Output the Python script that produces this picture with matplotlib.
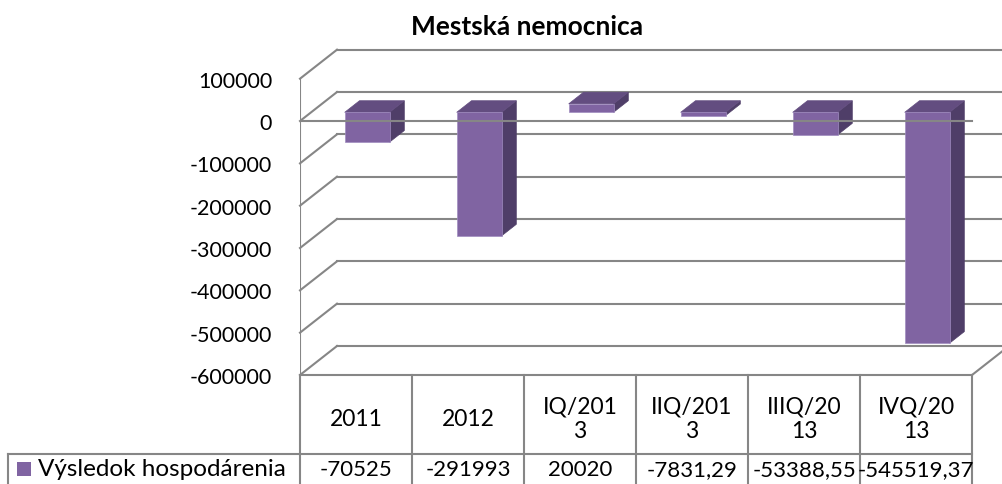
import matplotlib
matplotlib.use("Agg")
import matplotlib.pyplot as plt
from matplotlib.patches import Polygon, Rectangle
from matplotlib.transforms import blended_transform_factory

plt.rcParams['font.family'] = ['Lato', 'DejaVu Sans']

# --- data ---
title = "Mestská nemocnica"
series_name = "Výsledok hospodárenia"
categories = ["2011", "2012", "IQ/201\n3", "IIQ/201\n3", "IIIQ/20\n13", "IVQ/20\n13"]
values = [-70525, -291993, 20020, -7831.29, -53388.55, -545519.37]
y_ticks = [100000, 0, -100000, -200000, -300000, -400000, -500000, -600000]

FRONT = "#8064A2"
SIDE = "#4F3E68"
TOP = "#634D80"
GRID = "#868686"

W, H = 1003, 485
fig = plt.figure(figsize=(W / 100, H / 100), dpi=100)

# axes: front plane, one category = 112 px, 100000 = 42.33 px
cat_px, unit_px = 112, 42.33
ax = fig.add_axes([300 / W, (H - 376) / H, 703 / W, 336 / H])
ax.set_xlim(-0.5, -0.5 + 703 / cat_px)
ax.set_ylim(y_ticks[-1], y_ticks[-1] + 336 / unit_px * 1e5)
ax.patch.set_alpha(0)
for s in ax.spines.values():
    s.set_visible(False)
ax.set_xticks([])
ax.set_yticks(y_ticks)
ax.set_yticklabels([str(t) for t in y_ticks])
ax.tick_params(axis='y', length=0, pad=20, labelsize=15.5)

# depth offset of the back wall
DX = 37 / cat_px
DY = 29 / unit_px * 1e5
n = len(categories)
x0, x1 = -0.5, n - 0.5
ymin, ymax = y_ticks[-1], y_ticks[0]

# back wall gridlines + left wall diagonals
for t in y_ticks:
    ax.plot([x0 + DX, x1 + DX], [t + DY, t + DY], color=GRID, lw=1.5, zorder=1, clip_on=False)
    ax.plot([x0, x0 + DX], [t, t + DY], color=GRID, lw=1.5, zorder=1, clip_on=False)
ax.plot([x0, x0], [ymin, ymax], color=GRID, lw=1.5, zorder=1)
ax.plot([x1, x1 + DX], [ymin, ymin + DY], color=GRID, lw=1.5, zorder=1, clip_on=False)

# 3d bars
z0, z1, hw = 0.3, 0.7, 0.2
for i, v in enumerate(values):
    lo, hi = min(v, 0), max(v, 0)
    xl, xr = i - hw, i + hw
    top = [(xl + z0 * DX, hi + z0 * DY), (xr + z0 * DX, hi + z0 * DY),
           (xr + z1 * DX, hi + z1 * DY), (xl + z1 * DX, hi + z1 * DY)]
    side = [(xr + z0 * DX, lo + z0 * DY), (xr + z0 * DX, hi + z0 * DY),
            (xr + z1 * DX, hi + z1 * DY), (xr + z1 * DX, lo + z1 * DY)]
    ax.add_patch(Polygon(side, closed=True, facecolor=SIDE, edgecolor=SIDE, lw=0.5, zorder=2))
    ax.add_patch(Polygon(top, closed=True, facecolor=TOP, edgecolor=TOP, lw=0.5, zorder=2))
    ax.add_patch(Rectangle((xl + z0 * DX, lo + z0 * DY), 2 * hw, hi - lo,
                           facecolor=FRONT, edgecolor="#A08CC0", lw=0.5, zorder=2.5))

# front zero line
ax.plot([x0, x1], [0, 0], color=GRID, lw=1.5, zorder=3)

# data table
tr = blended_transform_factory(ax.transData, fig.transFigure)
row_top, row_mid = 1 - 376 / H, 1 - 455 / H
ax.plot([x0, x1], [row_top, row_top], color=GRID, lw=1.5, transform=tr, clip_on=False)
ax.plot([x0, x1], [row_mid, row_mid], color=GRID, lw=1.5, transform=tr, clip_on=False)
for k in range(n + 1):
    ax.plot([x0 + k, x0 + k], [row_top, 0], color=GRID, lw=1.5, transform=tr, clip_on=False)
fig.add_artist(plt.Line2D([8 / W, 300 / W], [row_mid, row_mid], color=GRID, lw=1.5))
fig.add_artist(plt.Line2D([8 / W, 8 / W], [row_mid, 0], color=GRID, lw=1.5))

for i, (cat, v) in enumerate(zip(categories, values)):
    ax.text(i, 1 - 419 / H, cat, transform=tr, ha='center', va='center',
            fontsize=16.5, linespacing=1.2)
    ax.text(i, 1 - 470 / H, str(v).replace('.', ','), transform=tr,
            ha='center', va='center', fontsize=16)

fig.add_artist(Rectangle((17 / W, 1 - 477 / H), 14 / W, 14 / H, transform=fig.transFigure,
                         facecolor=FRONT, edgecolor='none'))
fig.text(38 / W, 1 - 470 / H, series_name, ha='left', va='center', fontsize=17.5)

fig.text(527 / W, 1 - 27 / H, title, ha='center', va='center', fontsize=19, fontweight='bold')

fig.savefig("out.png", dpi=100)
